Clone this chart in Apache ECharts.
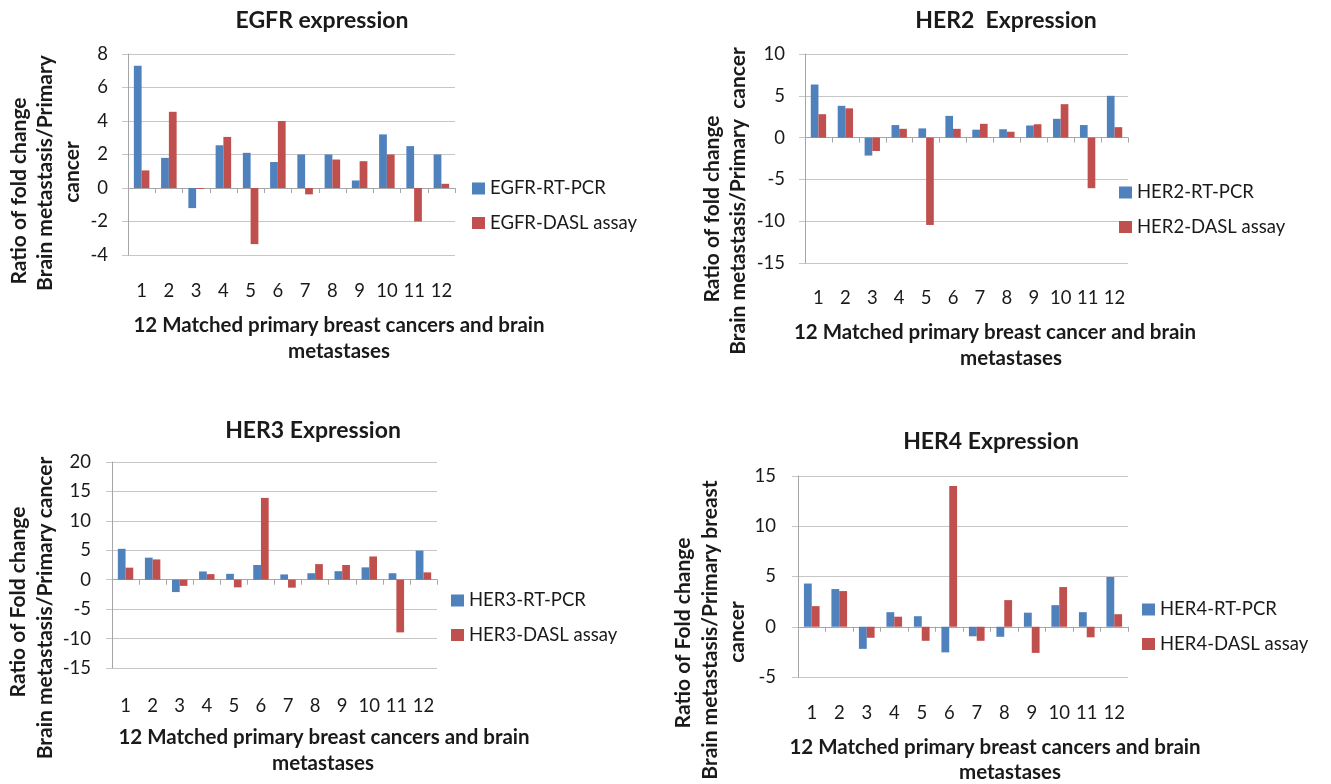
<!DOCTYPE html>
<html>
<head>
<meta charset="utf-8">
<script src="https://cdn.jsdelivr.net/npm/echarts@6/dist/echarts.min.js"></script>
<style>
html,body{margin:0;padding:0;background:#fff;}
#c{width:1331px;height:784px;}
</style>
</head>
<body>
<div id="c"></div>
<script>
// ---- data ----
const categories = ['1','2','3','4','5','6','7','8','9','10','11','12'];

const egfrRtPcr = [7.3, 1.8, -1.2, 2.55, 2.1, 1.55, 2.0, 2.0, 0.45, 3.2, 2.5, 2.0];
const egfrDasl  = [1.05, 4.55, -0.05, 3.05, -3.35, 4.0, -0.38, 1.7, 1.6, 2.0, -2.0, 0.25];

const her2RtPcr = [6.35, 3.8, -2.15, 1.5, 1.1, 2.6, 0.95, 1.0, 1.45, 2.25, 1.5, 5.0];
const her2Dasl  = [2.8, 3.5, -1.6, 1.05, -10.45, 1.05, 1.65, 0.7, 1.6, 4.0, -6.05, 1.25];

const her3RtPcr = [5.25, 3.75, -2.1, 1.4, 1.0, 2.5, 0.9, 1.1, 1.45, 2.1, 1.1, 4.95];
const her3Dasl  = [2.05, 3.45, -1.05, 0.95, -1.3, 13.9, -1.35, 2.65, 2.5, 3.95, -8.95, 1.25];

const her4RtPcr = [4.3, 3.75, -2.2, 1.45, 1.05, -2.55, -0.95, -1.0, 1.4, 2.15, 1.45, 4.95];
const her4Dasl  = [2.05, 3.55, -1.1, 1.0, -1.4, 14.0, -1.4, 2.65, -2.6, 3.95, -1.05, 1.25];

const yTicks = [
  {min: -4, max: 8, interval: 2},
  {min: -15, max: 10, interval: 5},
  {min: -15, max: 20, interval: 5},
  {min: -5, max: 15, interval: 5}
];

const titles = ['EGFR expression', 'HER2  Expression', 'HER3 Expression', 'HER4 Expression'];
const seriesNames = [
  ['EGFR-RT-PCR', 'EGFR-DASL assay'],
  ['HER2-RT-PCR', 'HER2-DASL assay'],
  ['HER3-RT-PCR', 'HER3-DASL assay'],
  ['HER4-RT-PCR', 'HER4-DASL assay']
];
const seriesData = [
  [egfrRtPcr, egfrDasl],
  [her2RtPcr, her2Dasl],
  [her3RtPcr, her3Dasl],
  [her4RtPcr, her4Dasl]
];
const yNames = [
  ['Ratio of fold change', 'Brain metastasis/Primary', 'cancer'],
  ['Ratio of fold change', 'Brain metastasis/Primary  cancer'],
  ['Ratio of Fold change', 'Brain metastasis/Primary cancer'],
  ['Ratio of Fold change', 'Brain metastasis/Primary breast', 'cancer']
];
const xNames = [
  ['12 Matched primary breast cancers and brain', 'metastases'],
  ['12 Matched primary breast cancer and brain', 'metastases'],
  ['12 Matched primary breast cancers and brain', 'metastases'],
  ['12 Matched primary breast cancers and brain', 'metastases']
];

// ---- layout ----
const FONT = 'Lato, "Open Sans", sans-serif';
const BLUE = '#4F81BD', RED = '#C0504D';
const layout = [
  {grid:{left:128, top:54, width:327, height:201}, xMargin:27, yMargin:20,
   title:[322,22], legend:[472,179],
   yName:[[19,191],[45.5,173],[72,172]], xName:[[339,325],[339,351.5]]},
  {grid:{left:805, top:54, width:323, height:209}, xMargin:25.5, yMargin:20,
   title:[1006,22], legend:[1119,183],
   yName:[[712,209],[738,201]], xName:[[995,332],[1011,358]]},
  {grid:{left:112, top:462, width:325, height:206}, xMargin:29, yMargin:21,
   title:[313,432], legend:[451,591],
   yName:[[18,602],[45,608]], xName:[[324,737],[323,763]]},
  {grid:{left:798, top:476, width:330, height:201}, xMargin:26.5, yMargin:22,
   title:[991,443], legend:[1142,600],
   yName:[[683,633],[710,630],[737,632]], xName:[[995,747],[1010,772]]}
];

const grids = [], xAxes = [], yAxes = [], series = [], title = [], legend = [], graphic = [];
layout.forEach((L, i) => {
  grids.push(Object.assign({containLabel:false, outerBoundsMode:'none'}, L.grid));
  // label axis (bottom of plot)
  xAxes.push({
    type:'category', gridIndex:i, data:categories, position:'bottom',
    axisLine:{show:false, onZero:false}, axisTick:{show:false},
    axisLabel:{interval:0, hideOverlap:false, fontSize:18.5, color:'#1a1a1a', fontFamily:FONT, margin:L.xMargin},
    splitLine:{show:false}
  });
  // zero line axis with ticks between categories
  xAxes.push({
    type:'category', gridIndex:i, data:categories, position:'top',
    axisLine:{show:true, onZero:true, lineStyle:{color:'#a6a6a6', width:1}},
    axisTick:{show:true, inside:true, length:5, interval:0, lineStyle:{color:'#a6a6a6'}},
    axisLabel:{show:false}, splitLine:{show:false}
  });
  const t = yTicks[i];
  yAxes.push({
    type:'value', gridIndex:i, min:t.min, max:t.max, interval:t.interval,
    axisLine:{show:true, lineStyle:{color:'#a6a6a6'}},
    axisTick:{show:true, length:6, lineStyle:{color:'#c6c6c6'}},
    axisLabel:{fontSize:18.5, color:'#1a1a1a', fontFamily:FONT, margin:L.yMargin},
    splitLine:{show:true, lineStyle:{color:'#c6c6c6', width:1}}
  });
  [0,1].forEach(k => {
    series.push({
      name: seriesNames[i][k], type:'bar', xAxisIndex:i*2, yAxisIndex:i,
      data: seriesData[i][k], barGap:'0%', barCategoryGap:'43%',
      itemStyle:{color: k===0 ? BLUE : RED}, animation:false
    });
  });
  title.push({
    text: titles[i], left: L.title[0], top: L.title[1] - 13, textAlign:'center', padding:0,
    textStyle:{fontSize:23, fontWeight:'bold', color:'#1a1a1a', fontFamily:FONT}
  });
  legend.push({
    data: seriesNames[i], orient:'vertical', left:L.legend[0], top:L.legend[1], padding:0,
    icon:'rect', itemWidth:13, itemHeight:12, itemGap:15.5,
    textStyle:{fontSize:18.5, color:'#1a1a1a', fontFamily:FONT}, selectedMode:false
  });
  yNames[i].forEach((s, j) => {
    graphic.push({
      type:'text', x:L.yName[j][0], y:L.yName[j][1], rotation:Math.PI/2,
      style:{text:s, fontSize:21, fontWeight:'bold', fontFamily:FONT, fill:'#1a1a1a',
        align:'center', verticalAlign:'middle', textAlign:'center', textVerticalAlign:'middle'}
    });
  });
  xNames[i].forEach((s, j) => {
    graphic.push({
      type:'text', x:L.xName[j][0], y:L.xName[j][1],
      style:{text:s, fontSize:20.5, fontWeight:'bold', fontFamily:FONT, fill:'#1a1a1a',
        align:'center', verticalAlign:'middle', textAlign:'center', textVerticalAlign:'middle'}
    });
  });
});

const chart = echarts.init(document.getElementById('c'), null, {renderer:'canvas'});
chart.setOption({
  backgroundColor:'#ffffff',
  animation:false,
  title, legend, grid:grids, xAxis:xAxes, yAxis:yAxes, series, graphic
});
</script>
</body>
</html>
